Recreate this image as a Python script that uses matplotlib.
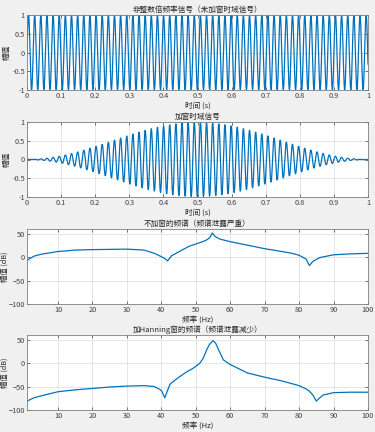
import matplotlib.pyplot as plt
import numpy as np

plt.rcParams['font.family'] = ['Noto Sans CJK SC', 'DejaVu Sans']

# 信号参数
fs = 1000          # 采样率 (Hz)
f_sig = 55.55      # 非整数倍频率 (Hz)
amp = 1.0
duration = 1.0

# 频谱读数：不加窗
freq_rect = [1, 3, 5, 10, 15, 20, 25, 30, 35, 38, 40, 41, 41.8, 43, 45, 48, 50, 52, 53, 54, 54.8, 55.6, 57, 60, 65, 70, 75, 78, 80, 82, 83, 84, 86, 88, 90, 95, 100]
db_rect = [-7, 2, 6, 12, 15, 16, 16.5, 17, 15, 8, 1, -3, -8, 3, 11, 23, 28, 33, 36, 41, 51.5, 44, 38.5, 33, 25.5, 18, 12, 8, 4, -4, -18, -9, -1, 2, 5, 7, 8]

# 频谱读数：加Hanning窗
freq_hann = [1, 3, 5, 10, 15, 20, 25, 30, 35, 38, 40, 41, 42.5, 44, 45.5, 47.3, 49, 50, 51.2, 52.2, 53.2, 54, 55, 55.8, 56.6, 58, 60, 65, 70, 75, 80, 82, 83, 84, 85, 86, 87, 90, 95, 100]
db_hann = [-81, -74, -70, -61, -57, -54, -51, -49, -48, -50, -58, -74, -45, -36, -28, -19, -12, -7, 0, 11, 29, 40, 48, 42, 29, 7, -3, -21, -30, -38, -48, -55, -60, -68, -81, -74, -68, -63, -62, -62]

t = np.arange(0, duration + 1 / fs, 1 / fs)
x = amp * np.sin(2 * np.pi * f_sig * t)
x_win = x * np.hanning(len(t))

blue = '#0072BD'
grid_c = '#dcdcdc'
txt_c = '#262626'
tick_c = '#404040'

fig = plt.figure(figsize=(3.75, 4.32), dpi=100, facecolor='#f0f0f0')
W, H = 375, 432
boxes = [(27, 15, 368, 90), (27, 122, 368, 197), (27, 229, 368, 304), (27, 335, 368, 410)]
axes = [fig.add_axes([l / W, 1 - b / H, (r - l) / W, (b - tp) / H]) for (l, tp, r, b) in boxes]

def style(ax):
    ax.set_facecolor('white')
    ax.grid(True, color=grid_c, linewidth=0.5)
    ax.set_axisbelow(True)
    ax.tick_params(direction='in', length=2, width=0.5, labelsize=5.3, colors=tick_c, pad=1.5, top=True, right=True, labeltop=False, labelright=False)
    for s in ax.spines.values():
        s.set_color('#7f7f7f')
        s.set_linewidth(0.6)

ax1, ax2, ax3, ax4 = axes

ax1.plot(t, x, color=blue, linewidth=0.9)
ax1.set_title('非整数倍频率信号（未加窗时域信号）', fontsize=5.5, pad=2, color=txt_c)
ax2.plot(t, x_win, color=blue, linewidth=0.9)
ax2.set_title('加窗时域信号', fontsize=5.5, pad=2, color=txt_c)
for ax in (ax1, ax2):
    ax.set_xlim(0, 1)
    ax.set_ylim(-1, 1)
    ax.set_xticks(np.arange(0, 1.01, 0.1))
    ax.set_xticklabels(['0', '0.1', '0.2', '0.3', '0.4', '0.5', '0.6', '0.7', '0.8', '0.9', '1'])
    ax.set_yticks([-1, -0.5, 0, 0.5, 1])
    ax.set_yticklabels(['-1', '-0.5', '0', '0.5', '1'])
    ax.set_xlabel('时间 (s)', fontsize=5.5, labelpad=1, color=txt_c)
    ax.set_ylabel('幅值', fontsize=5.5, labelpad=1, color=txt_c)
    style(ax)

ax3.plot(freq_rect, db_rect, color=blue, linewidth=0.9)
ax3.set_title('不加窗的频谱（频谱泄露严重）', fontsize=5.5, pad=2, color=txt_c)
ax4.plot(freq_hann, db_hann, color=blue, linewidth=0.9)
ax4.set_title('加Hanning窗的频谱（频谱泄露减少）', fontsize=5.5, pad=2, color=txt_c)
for ax in (ax3, ax4):
    ax.set_xlim(1, 100)
    ax.set_ylim(-100, 60)
    ax.set_xticks(np.arange(10, 101, 10))
    ax.set_yticks([-100, -50, 0, 50])
    ax.set_xlabel('频率 (Hz)', fontsize=5.5, labelpad=1, color=txt_c)
    ax.set_ylabel('幅值 (dB)', fontsize=5.3, labelpad=0, color=txt_c)
    style(ax)

fig.savefig('out.png', dpi=100, facecolor=fig.get_facecolor())
